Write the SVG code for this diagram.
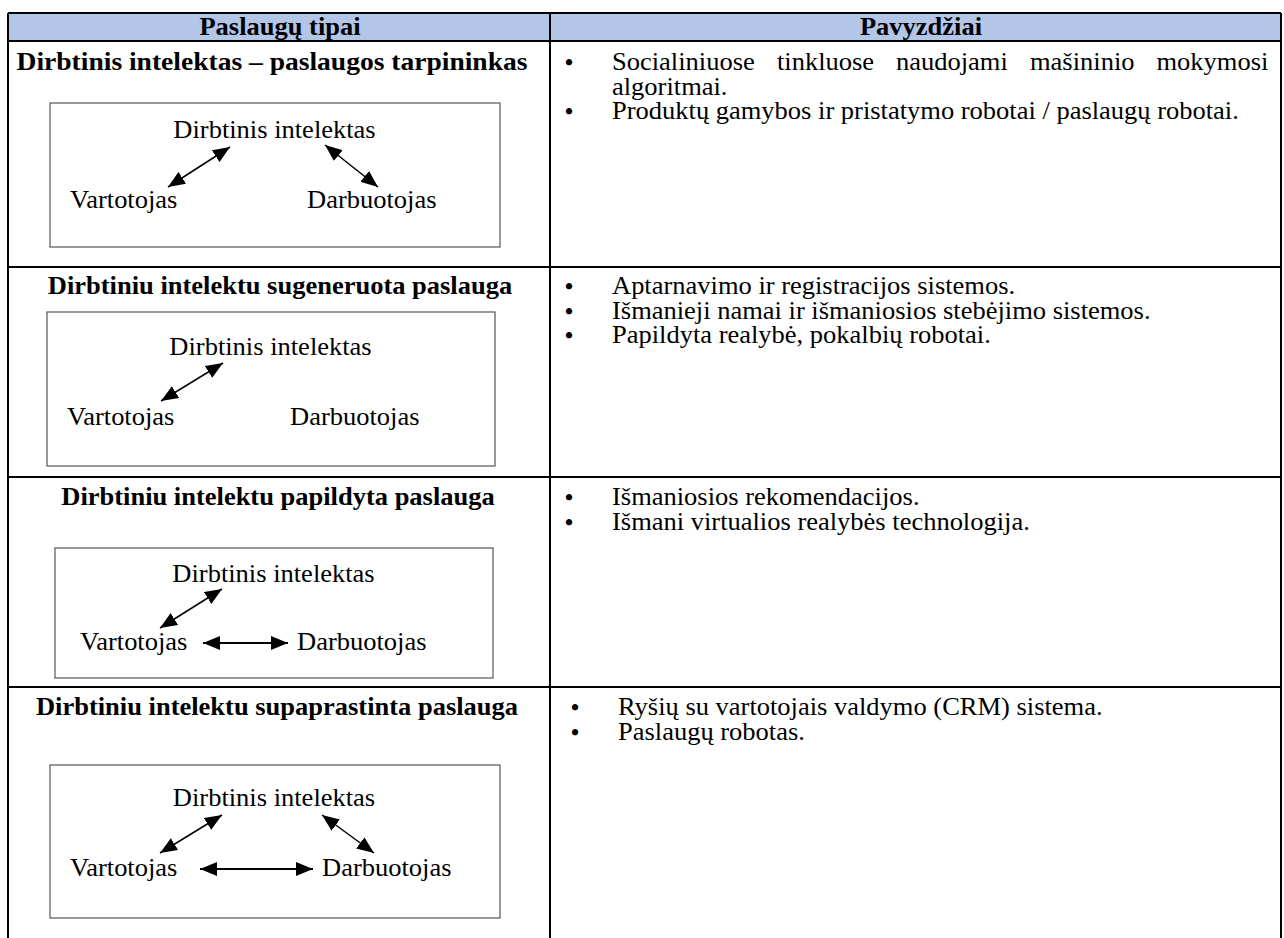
<svg xmlns="http://www.w3.org/2000/svg" width="1284" height="938" viewBox="0 0 1284 938">
<style>
text{font-family:"Liberation Serif","Times New Roman",serif;font-size:25px;fill:#000}
.b{font-weight:bold}
.m{text-anchor:middle}
.bul{font-size:23px;font-weight:bold;text-anchor:middle}
.grid{stroke:#000;stroke-width:2;fill:none}
.box{fill:none;stroke:#555;stroke-width:1.2}
.arr{stroke:#000;stroke-width:1.5;fill:none;marker-start:url(#ah);marker-end:url(#ah)}
.arr2{stroke:#000;stroke-width:2;fill:none;marker-start:url(#ah);marker-end:url(#ah)}
</style>
<defs>
<marker id="ah" markerUnits="userSpaceOnUse" markerWidth="18" markerHeight="14" refX="17" refY="7" orient="auto-start-reverse">
<path d="M0,0 L17,7 L0,14 z" fill="#000"/>
</marker>
</defs>
<rect width="1284" height="938" fill="#fff"/>
<g id="table">
<rect x="8" y="13" width="1273" height="28" fill="#B4C6E7"/>
<path class="grid" d="M8,13 H1281 M8,41 H1281 M8,267 H1281 M8,477 H1281 M8,687 H1281 M8,13 V938 M550,13 V938 M1281,13 V938"/>
</g>
<g id="header">
<text class="b m" transform="matrix(1.06 0 0 1 280 35)">Paslaugų tipai</text>
<text class="b m" transform="matrix(1.06 0 0 1 921 35)">Pavyzdžiai</text>
</g>
<g id="row1">
<text class="b m" transform="matrix(1.06 0 0 1 272 70)" textLength="482" lengthAdjust="spacingAndGlyphs">Dirbtinis intelektas – paslaugos tarpininkas</text>
<rect class="box" x="50" y="103" width="450" height="144"/>
<text class="m" transform="matrix(1.06 0 0 1 274.5 138)">Dirbtinis intelektas</text>
<text transform="matrix(1.06 0 0 1 70 208)">Vartotojas</text>
<text transform="matrix(1.06 0 0 1 307 208)">Darbuotojas</text>
<text class="bul" x="569" y="70">•</text>
<text transform="matrix(1.06 0 0 1 612 70)">Socialiniuose</text>
<text transform="matrix(1.06 0 0 1 777 70)">tinkluose</text>
<text transform="matrix(1.06 0 0 1 896 70)">naudojami</text>
<text transform="matrix(1.06 0 0 1 1030 70)">mašininio</text>
<text transform="matrix(1.06 0 0 1 1156.5 70)">mokymosi</text>
<text transform="matrix(1.06 0 0 1 612 94.5)">algoritmai.</text>
<text class="bul" x="569" y="119">•</text>
<text transform="matrix(1.06 0 0 1 612 119)">Produktų gamybos ir pristatymo robotai / paslaugų robotai.</text>
</g>
<g id="row2">
<text class="b m" transform="matrix(1.06 0 0 1 280 294)">Dirbtiniu intelektu sugeneruota paslauga</text>
<rect class="box" x="47" y="312" width="448" height="154"/>
<text class="m" transform="matrix(1.06 0 0 1 270.5 355)">Dirbtinis intelektas</text>
<text transform="matrix(1.06 0 0 1 67 425)">Vartotojas</text>
<text transform="matrix(1.06 0 0 1 290 425)">Darbuotojas</text>
<text class="bul" x="569" y="294">•</text>
<text transform="matrix(1.06 0 0 1 612 294)">Aptarnavimo ir registracijos sistemos.</text>
<text class="bul" x="569" y="318.5">•</text>
<text transform="matrix(1.06 0 0 1 612 318.5)">Išmanieji namai ir išmaniosios stebėjimo sistemos.</text>
<text class="bul" x="569" y="343">•</text>
<text transform="matrix(1.06 0 0 1 612 343)">Papildyta realybė, pokalbių robotai.</text>
</g>
<g id="row3">
<text class="b m" transform="matrix(1.06 0 0 1 278 505)">Dirbtiniu intelektu papildyta paslauga</text>
<rect class="box" x="55" y="548" width="438" height="130"/>
<text class="m" transform="matrix(1.06 0 0 1 273.5 582)">Dirbtinis intelektas</text>
<text transform="matrix(1.06 0 0 1 80 650)">Vartotojas</text>
<text transform="matrix(1.06 0 0 1 297 650)">Darbuotojas</text>
<text class="bul" x="569" y="505">•</text>
<text transform="matrix(1.06 0 0 1 612 505)">Išmaniosios rekomendacijos.</text>
<text class="bul" x="569" y="529.5">•</text>
<text transform="matrix(1.06 0 0 1 612 529.5)">Išmani virtualios realybės technologija.</text>
</g>
<g id="row4">
<text class="b m" transform="matrix(1.06 0 0 1 277 715)">Dirbtiniu intelektu supaprastinta paslauga</text>
<rect class="box" x="50" y="765" width="450" height="153"/>
<text class="m" transform="matrix(1.06 0 0 1 274 806)">Dirbtinis intelektas</text>
<text transform="matrix(1.06 0 0 1 70 876)">Vartotojas</text>
<text transform="matrix(1.06 0 0 1 322 876)">Darbuotojas</text>
<text class="bul" x="575" y="715">•</text>
<text transform="matrix(1.06 0 0 1 618 715)">Ryšių su vartotojais valdymo (CRM) sistema.</text>
<text class="bul" x="575" y="739.5">•</text>
<text transform="matrix(1.06 0 0 1 618 739.5)">Paslaugų robotas.</text>
</g>
<g id="connectors">
<line class="arr" x1="168" y1="187" x2="230" y2="147"/>
<line class="arr" x1="325" y1="145" x2="378" y2="187"/>
<line class="arr" x1="161" y1="401" x2="223" y2="363"/>
<line class="arr" x1="160" y1="628" x2="222" y2="589"/>
<line class="arr2" x1="203" y1="643" x2="288" y2="643"/>
<line class="arr" x1="160" y1="853" x2="222" y2="815"/>
<line class="arr" x1="322" y1="815" x2="374" y2="853"/>
<line class="arr2" x1="200" y1="869" x2="313" y2="869"/>
</g>
</svg>
